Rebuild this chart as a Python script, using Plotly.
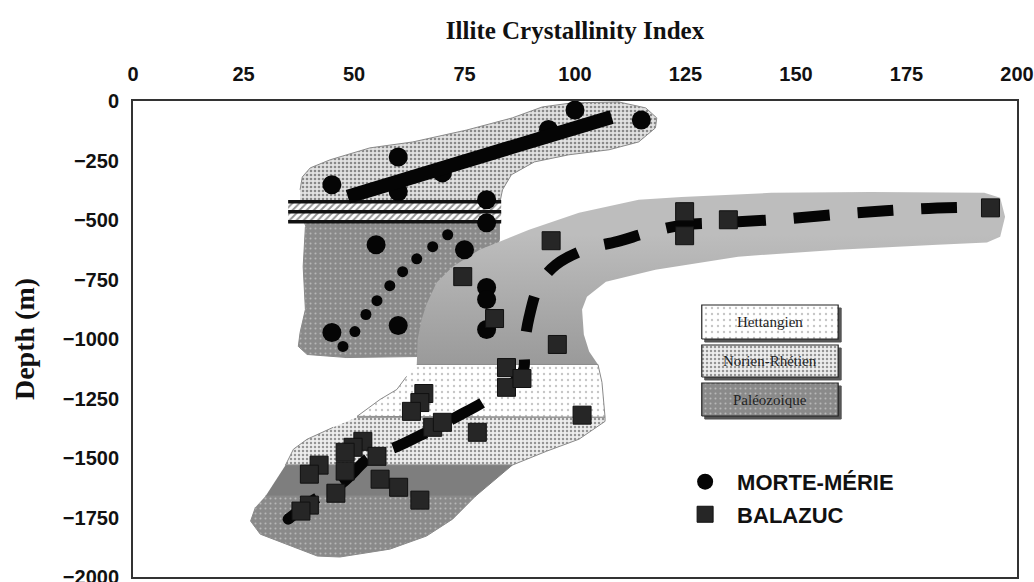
import plotly.graph_objects as go

# ---------------- data ----------------
x_ticks = [0, 25, 50, 75, 100, 125, 150, 175, 200]
y_ticks = [0, -250, -500, -750, -1000, -1250, -1500, -1750, -2000]

# MORTE-MERIE (circles)
mm_x = [100, 115, 60, 45, 70, 60, 94, 80, 80, 55, 75, 80, 80, 80, 60, 45]
mm_y = [-38, -80, -235, -352, -302, -381, -120, -415, -512, -604, -625, -784, -834, -960, -943, -973]

# small dots of the dotted Morte-Merie trend
dot_x = [71.2, 67.8, 64.2, 61.0, 58.1, 55.2, 52.7, 50.2, 47.5, 35.1]
dot_y = [-562, -612, -663, -717, -776, -839, -897, -969, -1031, -1757]

# BALAZUC (squares)
bz_x = [94.6, 124.8, 124.8, 134.7, 194, 74.6, 81.8, 96, 84.5, 84.5, 88, 101.6, 65.8, 64.9, 63,
        67.8, 70, 77.9, 52, 49.8, 48, 55.2, 42.1, 39.9, 48, 55.9, 60.1, 45.9, 64.9, 39.9, 38]
bz_y = [-587, -465, -566, -499, -449, -738, -914, -1023, -1120, -1203, -1166, -1320, -1229, -1267, -1304,
        -1371, -1350, -1392, -1430, -1455, -1476, -1493, -1530, -1568, -1555, -1589, -1623, -1648, -1677, -1698, -1723]

# trend lines
mm_trend_x = [48.6, 108.3]
mm_trend_y = [-402, -67]
bz_trend_x = [35.1, 41.2, 47.5, 53.6, 59.9, 66.4, 73.4, 80.2, 88.1, 88.5, 89.6, 91.9, 95.7, 102.7,
              109.5, 117.3, 125, 132.9, 147.7, 163.3, 177.9, 193.9]
bz_trend_y = [-1757, -1673, -1602, -1497, -1451, -1392, -1325, -1254, -1141, -1036, -910, -772, -688, -621,
              -591, -549, -520, -512, -495, -470, -453, -444]

# outlines of the shaded zones (data units)
upper_x = [37.8, 38.3, 40.1, 44.6, 53.6, 63.3, 75.5, 85.8, 92.6, 99.3, 109.9, 116, 118.5, 118.2, 114.4,
           107.7, 98.6, 90.8, 85.6, 83.6, 82.9, 82.9, 37.8]
upper_y = [-373, -319, -281, -247, -197, -172, -122, -71, -25, -8, -4, -29, -71, -113, -172,
           -205, -226, -256, -310, -373, -436, -465, -465]
paleo_up_x = [37.8, 82.9, 82.9, 78.4, 67.1, 48.4, 39.4, 37.4, 37.8, 39, 38.5, 39]
paleo_up_y = [-465, -465, -583, -834, -1073, -1078, -1065, -1031, -973, -876, -696, -528]
gray_x = [64.2, 64.4, 65.3, 66.4, 68.7, 72.3, 78.4, 89.6, 100.9, 114.4, 124.1, 144.4, 166.9, 192.6, 196.2,
          197.3, 196.2, 193.2, 182, 159.5, 136.9, 118.2, 107, 102.7, 101.6, 102, 103.2, 105.2]
gray_y = [-1107, -1002, -918, -855, -763, -696, -625, -541, -470, -415, -403, -386, -382, -386, -407,
          -486, -570, -595, -604, -625, -654, -709, -759, -822, -876, -981, -1052, -1107]
hett_x = [64.2, 105.2, 106.1, 106.8, 50.7, 55.9, 59.7, 61.9]
hett_y = [-1107, -1107, -1182, -1329, -1325, -1254, -1212, -1157]
nor_x = [50.7, 106.8, 106.8, 100.9, 93.5, 85.8, 34.5, 36.3, 39.4, 45.3]
nor_y = [-1329, -1329, -1346, -1421, -1472, -1530, -1530, -1463, -1421, -1371]
dark_x = [34.5, 85.8, 77.5, 30]
dark_y = [-1530, -1530, -1660, -1660]
paleo_lo_x = [30, 77.5, 72.3, 66.4, 58.1, 46.8, 41.7, 35.6, 28.8, 26.6, 27.7]
paleo_lo_y = [-1660, -1660, -1757, -1828, -1883, -1916, -1912, -1870, -1820, -1765, -1707]

# hatched discordance band
band_x0, band_x1 = 35.1, 83.3
band_lines_y = [-423, -465, -507]

# legend boxes
leg_labels = ["Hettangien", "Norien-Rhétien", "Paléozoique"]

# ---------------- patterns ----------------
P_UP = dict(shape=".", bgcolor="#e2e2e2", fgcolor="#303030", size=4, solidity=0.33)
P_NOR = dict(shape=".", bgcolor="#ededed", fgcolor="#3c3c3c", size=4, solidity=0.3)
P_HET = dict(shape=".", bgcolor="#ffffff", fgcolor="#8c8c8c", size=6, solidity=0.12)
P_PAL = dict(shape=".", bgcolor="#8a8a8a", fgcolor="#e6e6e6", size=5, solidity=0.13)
P_HATCH = dict(shape="/", bgcolor="#ffffff", fgcolor="#2a2a2a", size=5, solidity=0.4)

fig = go.Figure()

def zone(xs, ys, pattern=None, color=None, line="#8a8a8a", grad=None):
    kw = dict(x=xs, y=ys, mode="lines", fill="toself", showlegend=False, hoverinfo="skip",
              line=dict(color=line, width=1))
    if pattern is not None:
        kw["fillpattern"] = pattern
    if color is not None:
        kw["fillcolor"] = color
    if grad is not None:
        kw["fillgradient"] = grad
    fig.add_trace(go.Scatter(**kw))

zone(upper_x, upper_y, pattern=P_UP)
zone(paleo_up_x, paleo_up_y, pattern=P_PAL)
zone(gray_x, gray_y, color="#b8b8b8", line="rgba(0,0,0,0)",
     grad=dict(type="vertical", start=-1107, stop=-560,
               colorscale=[[0, "#9a9a9a"], [1, "#bdbdbd"]]))
zone(hett_x, hett_y, pattern=P_HET)
zone(nor_x, nor_y, pattern=P_NOR)
zone(dark_x, dark_y, color="#7e7e7e", line="#7e7e7e")
zone(paleo_lo_x, paleo_lo_y, pattern=P_PAL)

# hatched strips between the three black lines
hx, hy = [], []
for a, b in zip(band_lines_y[:-1], band_lines_y[1:]):
    hx += [band_x0, band_x1, band_x1, band_x0, band_x0, None]
    hy += [a, a, b, b, a, None]
fig.add_trace(go.Scatter(x=hx, y=hy, mode="lines", fill="toself", fillpattern=P_HATCH,
                         line=dict(width=0, color="rgba(0,0,0,0)"), showlegend=False, hoverinfo="skip"))
lx, ly = [], []
for yy in band_lines_y:
    lx += [band_x0, band_x1, None]
    ly += [yy, yy, None]
fig.add_trace(go.Scatter(x=lx, y=ly, mode="lines", line=dict(color="#111111", width=3.5),
                         showlegend=False, hoverinfo="skip"))

# Morte-Merie points and trends
fig.add_trace(go.Scatter(x=mm_x, y=mm_y, mode="markers", name="MORTE-MÉRIE",
                         marker=dict(symbol="circle", size=19, color="#050505"), legendgroup="a"))
fig.add_trace(go.Scatter(x=mm_trend_x, y=mm_trend_y, mode="lines", line=dict(color="#050505", width=14),
                         showlegend=False, hoverinfo="skip"))
fig.add_trace(go.Scatter(x=dot_x, y=dot_y, mode="markers", marker=dict(size=11, color="#050505"),
                         showlegend=False, hoverinfo="skip"))

# Balazuc trend and points
fig.add_trace(go.Scatter(x=bz_trend_x, y=bz_trend_y, mode="lines", line_shape="spline",
                         line=dict(color="#050505", width=11, dash="36px,28px"),
                         showlegend=False, hoverinfo="skip"))
fig.add_trace(go.Scatter(x=bz_x, y=bz_y, mode="markers", name="BALAZUC",
                         marker=dict(symbol="square", size=18, color="#262626",
                                     line=dict(color="#111111", width=1)), legendgroup="b"))

# legend boxes for the lithologies (overlay axes in 0..1 units)
boxes = [(0.6434, 0.7977, 0.5714, 0.5000), (0.6434, 0.7977, 0.4874, 0.4202), (0.6434, 0.7977, 0.4076, 0.3382)]
pats = [P_HET, P_NOR, P_PAL]
dx, dy = 3 / 884, 3 / 476
for (x0, x1, y1, y0), pat, lab in zip(boxes, pats, leg_labels):
    fig.add_trace(go.Scatter(x=[x0 + dx, x1 + dx, x1 + dx, x0 + dx, x0 + dx],
                             y=[y0 - dy, y0 - dy, y1 - dy, y1 - dy, y0 - dy],
                             xaxis="x2", yaxis="y2", mode="lines", fill="toself",
                             fillcolor="#555555", line=dict(color="#555555", width=1),
                             showlegend=False, hoverinfo="skip"))
    fig.add_trace(go.Scatter(x=[x0, x1, x1, x0, x0], y=[y0, y0, y1, y1, y0],
                             xaxis="x2", yaxis="y2", mode="lines", fill="toself", fillpattern=pat,
                             line=dict(color="#222222", width=1.2), showlegend=False, hoverinfo="skip"))
    fig.add_annotation(x=(x0 + x1) / 2, y=(y0 + y1) / 2, xref="x2", yref="y2", text=lab,
                       showarrow=False, font=dict(family="Liberation Serif, Times New Roman, serif",
                                                  size=15, color="#222222"))

tickfont = dict(family="Liberation Sans, Arial, sans-serif", size=20, color="#111111", weight="bold")

fig.update_layout(
    width=1034, height=582,
    margin=dict(l=133, r=17, t=101, b=5, autoexpand=False),
    paper_bgcolor="white", plot_bgcolor="white",
    title=dict(text="Illite Crystallinity Index", x=0.5, xref="paper", y=1 - 30 / 582, yref="container",
               xanchor="center", yanchor="middle", automargin=False,
               font=dict(family="Liberation Serif, Times New Roman, serif", size=25, color="#111111",
                         weight="bold")),
    xaxis=dict(range=[0, 200], side="top", tickvals=x_ticks, ticks="outside", ticklen=10,
               tickcolor="rgba(0,0,0,0)", showgrid=False, zeroline=False, showline=True,
               linecolor="#333333", linewidth=2, mirror=True, tickfont=tickfont, fixedrange=True,
               ticklabeloverflow="allow", automargin=False),
    yaxis=dict(range=[-2000, 0], tickvals=y_ticks, ticks="outside", ticklen=8,
               tickcolor="rgba(0,0,0,0)", showgrid=False, zeroline=False, showline=True,
               linecolor="#333333", linewidth=2, mirror=True, tickfont=tickfont, fixedrange=True,
               ticklabeloverflow="allow", automargin=False,
               title=dict(text="Depth (m)", standoff=20,
                          font=dict(family="Liberation Serif, Times New Roman, serif", size=28,
                                    color="#111111", weight="bold"))),
    xaxis2=dict(range=[0, 1], overlaying="x", anchor="y2", visible=False, fixedrange=True),
    yaxis2=dict(range=[0, 1], overlaying="y", anchor="x2", visible=False, fixedrange=True),
    legend=dict(x=0.611, y=0.244, xanchor="left", yanchor="top", bgcolor="rgba(0,0,0,0)",
                tracegroupgap=1, itemwidth=54,
                font=dict(family="Liberation Sans, Arial, sans-serif", size=22, color="#111111",
                          weight="bold")),
    showlegend=True,
)

fig.write_html("out.html", config={"displayModeBar": False},
               post_script="document.body.style.margin='0';")
